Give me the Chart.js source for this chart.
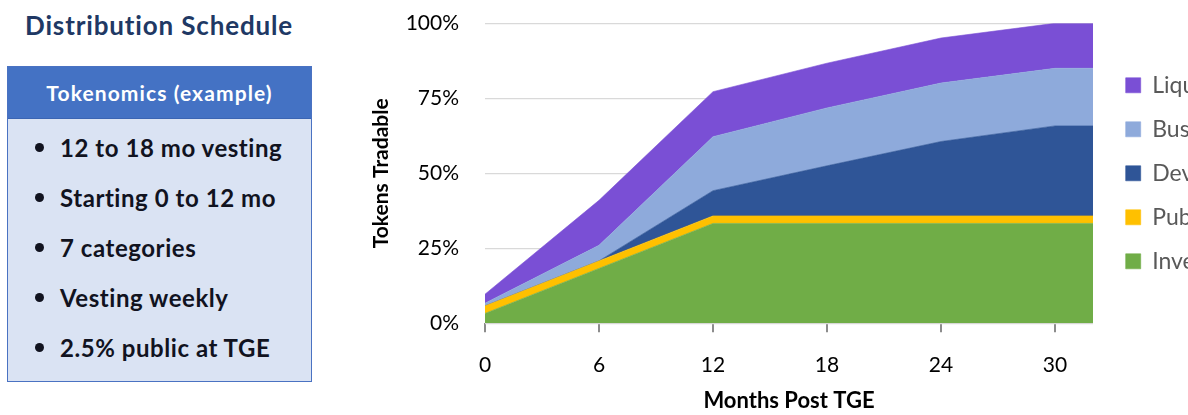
<!DOCTYPE html>
<html>
<head>
<meta charset="utf-8">
<title>Distribution Schedule</title>
<script src="https://cdn.jsdelivr.net/npm/chart.js@4.4.1/dist/chart.umd.min.js"></script>
<style>
  html, body { margin: 0; padding: 0; width: 1188px; height: 415px; overflow: hidden; background: #fff; font-family: Lato, "Open Sans", sans-serif; }
  #heading { position: absolute; left: 25px; top: 8px; font-size: 26px; letter-spacing: 0.85px; font-weight: 700; color: #203864; white-space: nowrap; line-height: 34px; }
  #card { position: absolute; left: 7px; top: 66px; width: 303px; height: 314px; border: 1.5px solid #4a72c2; background: #dae3f3; }
  #card .head { height: 51px; background: #4472c4; border-bottom: 1.5px solid #3b65b3; color: #fff; font-weight: 700; font-size: 21px; letter-spacing: 1.1px; text-align: center; line-height: 51px; }
  #card ul { list-style: none; margin: 0; padding: 4px 0 0 0; }
  #card li { position: relative; height: 50px; line-height: 50px; padding-left: 52px; font-size: 24px; letter-spacing: 0.55px; font-weight: 700; color: #11131f; white-space: nowrap; }
  #card li::before { content: ""; position: absolute; left: 27px; top: 20px; width: 9px; height: 9px; border-radius: 50%; background: #11131f; }
  #wrap { position: absolute; left: 360px; top: 0; width: 828px; height: 415px; }
</style>
</head>
<body>
<div id="heading">Distribution Schedule</div>
<div id="card">
  <div class="head">Tokenomics (example)</div>
  <ul>
    <li>12 to 18 mo vesting</li>
    <li>Starting 0 to 12 mo</li>
    <li>7 categories</li>
    <li>Vesting weekly</li>
    <li>2.5% public at TGE</li>
  </ul>
</div>
<div id="wrap"><canvas id="chart" width="828" height="415"></canvas></div>
<script>
// Months after the token generation event, and the share of supply (%) unlocked per group
const months = [0, 6, 12, 18, 24, 30, 32];
const monthTicks = [0, 6, 12, 18, 24, 30];
const percentTicks = [0, 25, 50, 75, 100];

const investors  = [3.3, 18.3, 33.3, 33.3, 33.3, 33.3, 33.3];
const publicSale = [2.5, 2.5, 2.5, 2.5, 2.5, 2.5, 2.5];
const developers = [0, 0, 8.4, 16.7, 24.8, 30.0, 30.0];
const business   = [0.9, 5.2, 18.0, 19.3, 19.5, 19.2, 19.2];
const liquidity  = [3.0, 15.0, 15.0, 14.9, 15.0, 15.0, 15.0];

const seriesNames  = ['Investors', 'Public', 'Developers', 'Business', 'Liquidity'];
const seriesValues = [investors, publicSale, developers, business, liquidity];
const seriesColors = ['#70ad47', '#ffc000', '#2f5597', '#8eaadb', '#7a4fd5'];

const datasets = seriesNames.map((name, i) => ({
  label: name,
  data: months.map((m, j) => ({ x: m, y: seriesValues[i][j] })),
  backgroundColor: seriesColors[i],
  borderColor: seriesColors[i],
  borderWidth: 0.6,
  pointRadius: 0,
  tension: 0,
  fill: i === 0 ? 'origin' : '-1'
}));

Chart.defaults.font.family = 'Lato, "Open Sans", sans-serif';

new Chart(document.getElementById('chart'), {
  type: 'line',
  data: { datasets },
  options: {
    responsive: false,
    devicePixelRatio: 1,
    animation: false,
    layout: { padding: { top: 23.3, left: 0, right: 0, bottom: 0 } },
    plugins: {
      tooltip: { enabled: false },
      legend: {
        position: 'right',
        fullSize: false,
        reverse: true,
        maxWidth: 83.3,
        labels: {
          boxWidth: 15,
          boxHeight: 15,
          padding: 21,
          color: '#595959',
          font: { size: 23 }
        }
      }
    },
    scales: {
      x: {
        type: 'linear',
        min: months[0],
        max: months[months.length - 1],
        afterBuildTicks: s => { s.ticks = monthTicks.map(v => ({ value: v })); },
        afterFit: s => { s.height = 91.7; },
        grid: { display: true, drawOnChartArea: false, drawTicks: true, tickLength: 9, color: '#8c8c8c', lineWidth: 2 },
        border: { display: false },
        ticks: { padding: 20, color: '#000', font: { size: 21 }, maxRotation: 0, callback: v => String(v) },
        title: { display: true, text: 'Months Post TGE', color: '#000', font: { size: 22, weight: 'bold' }, padding: { top: 0, bottom: 1 } }
      },
      y: {
        type: 'linear',
        stacked: true,
        min: 0,
        max: 100,
        afterBuildTicks: s => { s.ticks = percentTicks.map(v => ({ value: v })); },
        afterFit: s => { s.width = 125; },
        grid: { color: '#d9d9d9', lineWidth: 1.3, drawTicks: true, tickLength: 23, tickColor: 'rgba(0,0,0,0)' },
        border: { display: false },
        ticks: { padding: 3, color: '#000', font: { size: 21 }, callback: v => v + '%' },
        title: { display: true, text: 'Tokens Tradable', color: '#000', font: { size: 21, weight: 'bold' }, padding: { top: 9, bottom: 0 } }
      },
      gap: {
        type: 'linear',
        position: 'right',
        display: true,
        grid: { display: false, drawTicks: false },
        border: { display: false },
        ticks: { display: false },
        afterFit: s => { s.width = 11.7; }
      }
    }
  }
});
</script>
</body>
</html>
